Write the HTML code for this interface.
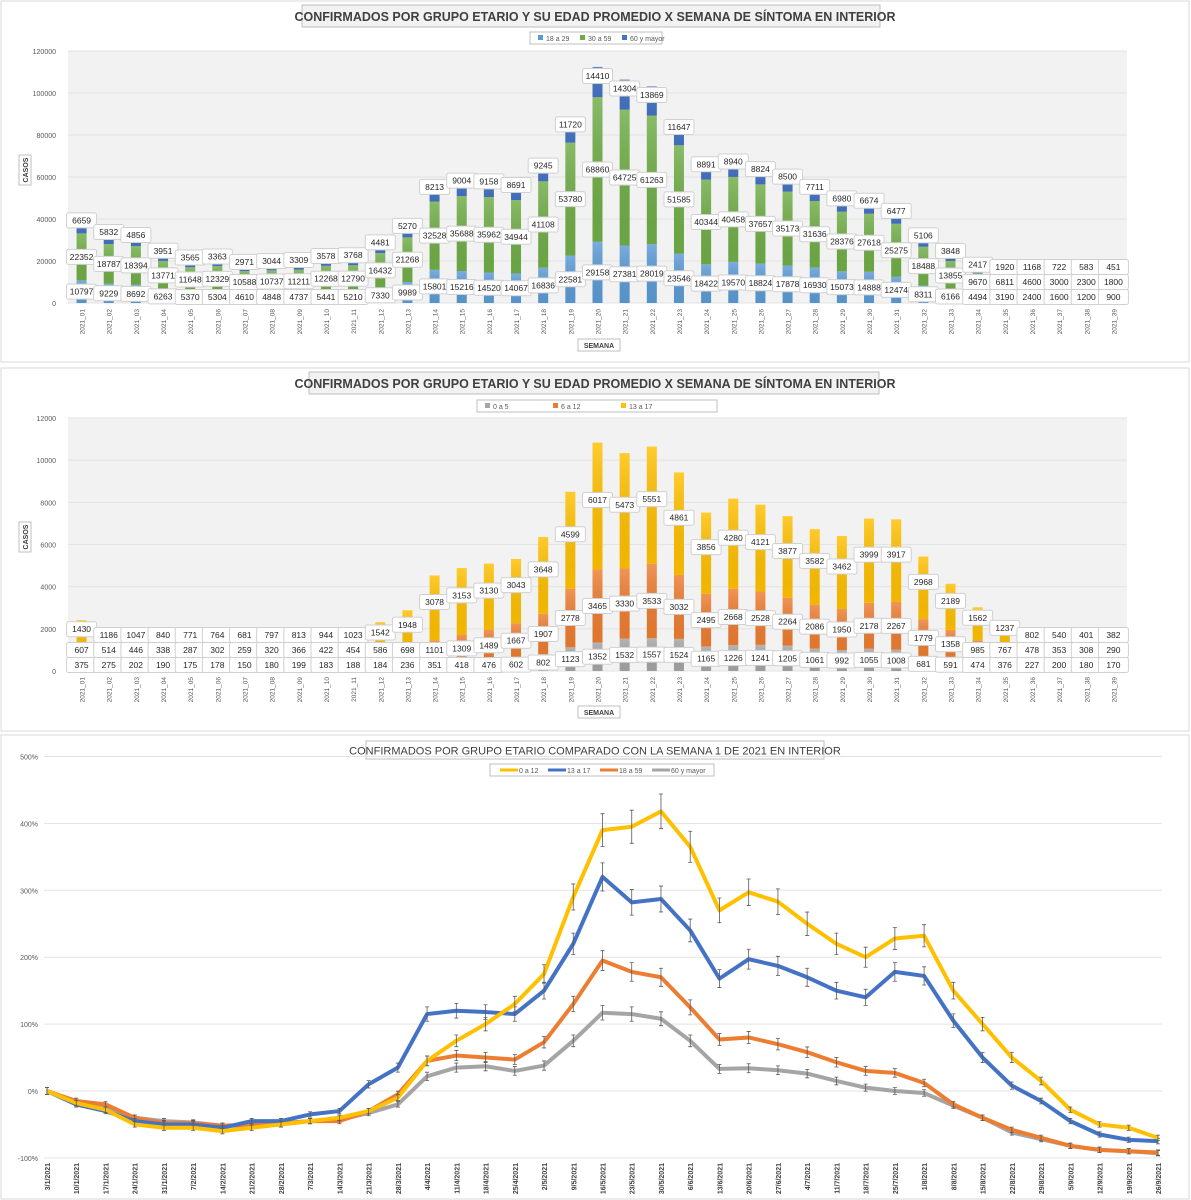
<!DOCTYPE html>
<html><head><meta charset="utf-8"><style>
body{margin:0;background:#fff;font-family:"Liberation Sans",sans-serif;}
svg{display:block}
</style></head><body>
<svg id="s" width="1191" height="1200" xmlns="http://www.w3.org/2000/svg">
<defs>
<linearGradient id="gr" x1="0" y1="0" x2="0" y2="1"><stop offset="0" stop-color="#fff" stop-opacity="0.18"/><stop offset="1" stop-color="#000" stop-opacity="0.05"/></linearGradient>
</defs>
</svg>
<script>
const weeks=[];for(let i=1;i<=39;i++)weeks.push('2021_'+String(i).padStart(2,'0'));
const c1_18a29=[10797,9229,8692,6263,5370,5304,4610,4848,4737,5441,5210,7330,9989,15801,15216,14520,14067,16836,22581,29158,27381,28019,23546,18422,19570,18824,17878,16930,15073,14888,12474,8311,6166,4494,3190,2400,1600,1200,900];
const c1_30a59=[22352,18787,18394,13771,11648,12329,10588,10737,11211,12268,12790,16432,21268,32528,35688,35962,34944,41108,53780,68860,64725,61263,51585,40344,40458,37657,35173,31636,28376,27618,25275,18488,13855,9670,6811,4600,3000,2300,1800];
const c1_60=[6659,5832,4856,3951,3565,3363,2971,3044,3309,3578,3768,4481,5270,8213,9004,9158,8691,9245,11720,14410,14304,13869,11647,8891,8940,8824,8500,7711,6980,6674,6477,5106,3848,2417,1920,1168,722,583,451];
const c1_ticks=[0,20000,40000,60000,80000,100000,120000];
const c2_0a5=[375,275,202,190,175,178,150,180,199,183,188,184,236,351,418,476,602,802,1123,1352,1532,1557,1524,1165,1226,1241,1205,1061,992,1055,1008,681,591,474,376,227,200,180,170];
const c2_6a12=[607,514,446,338,287,302,259,320,366,422,454,586,698,1101,1309,1489,1667,1907,2778,3465,3330,3533,3032,2495,2668,2528,2264,2086,1950,2178,2267,1779,1358,985,767,478,353,308,290];
const c2_13a17=[1430,1186,1047,840,771,764,681,797,813,944,1023,1542,1948,3078,3153,3130,3043,3648,4599,6017,5473,5551,4861,3856,4280,4121,3877,3582,3462,3999,3917,2968,2189,1562,1237,802,540,401,382];
const c2_ticks=[0,2000,4000,6000,8000,10000,12000];
const dates=[];{let d=new Date(2021,0,3);for(let i=0;i<39;i++){dates.push(d.getDate()+'/'+(d.getMonth()+1)+'/2021');d=new Date(d.getFullYear(),d.getMonth(),d.getDate()+7);}}
const l_0a12=[0,-18,-28,-50,-55,-55,-60,-55,-50,-45,-40,-30,-10,45,75,100,130,175,290,390,395,418,365,270,297,283,250,220,200,228,232,150,100,50,15,-28,-50,-55,-70];
const l_13a17=[0,-20,-30,-45,-50,-50,-55,-45,-45,-35,-30,10,35,115,120,118,115,150,220,320,282,287,240,168,197,187,170,150,140,178,172,105,50,8,-15,-45,-65,-73,-75];
const l_18a59=[0,-15,-20,-40,-48,-48,-52,-50,-48,-45,-45,-30,-5,45,53,50,47,73,130,195,178,170,125,77,80,70,58,43,30,27,12,-20,-40,-58,-70,-82,-88,-90,-92];
const l_60=[0,-18,-25,-40,-45,-47,-52,-52,-50,-45,-43,-33,-20,22,35,37,30,38,75,117,115,108,75,33,34,31,26,15,5,0,-3,-22,-40,-62,-72,-82,-88,-90,-93];
const l_ticks=[-100,0,100,200,300,400,500];

const S=document.getElementById('s');const NS='http://www.w3.org/2000/svg';
function el(t,a,p){const e=document.createElementNS(NS,t);for(const k in a)e.setAttribute(k,a[k]);(p||S).appendChild(e);return e;}
function tx(x,y,s,a,p){const e=el('text',Object.assign({x:x,y:y},a),p);e.textContent=s;return e;}

function panel(y0,h,name){const g=el('g',{});
 el('rect',{x:1,y:y0+1,width:1188,height:h,fill:'#fff',stroke:'#d9d9d9'},g);return g;}

function barChart(o){
 const g=panel(o.y0,o.h,o.name);
 const t=el('g',{},g);
 el('rect',{x:o.tx,y:o.y0+5,width:o.tw,height:22,fill:'#f2f2f2',stroke:'#bfbfbf'},t);
 tx(595,o.y0+21,'CONFIRMADOS POR GRUPO ETARIO Y SU EDAD PROMEDIO X SEMANA DE SÍNTOMA EN INTERIOR',{'text-anchor':'middle','font-size':12.5,'font-weight':'bold',fill:'#404040'},t);
 const lg=el('g',{},g);
 el('rect',{x:o.lx,y:o.ly,width:o.lw,height:12,fill:'#fff',stroke:'#bfbfbf'},lg);
 o.series.forEach((s,i)=>{const x=o.lx+8+i*o.lsp;el('rect',{x:x,y:o.ly+3,width:5,height:5,fill:s.c},lg);
  const e=tx(x+8,o.ly+9,s.n,{'font-size':7,fill:'#595959'},lg);});
 const px0=68,px1=1127,top=o.top,bot=o.bot,max=o.ticks[o.ticks.length-1];
 el('rect',{x:px0,y:top,width:px1-px0,height:bot-top,fill:'#f2f2f2'},g);
 const yS=v=>bot-v/max*(bot-top);const step=(px1-px0)/39;const xS=i=>px0+step*(i+0.5);
 o.ticks.forEach(v=>{el('line',{x1:px0,x2:px1,y1:yS(v),y2:yS(v),stroke:'#e3e3e3'},g);
  tx(px0-12,yS(v)+3,String(v),{'text-anchor':'end','font-size':7,fill:'#595959'},g);});
 const yt=el('g',{},g);el('rect',{x:19,y:o.ayc-15,width:12,height:30,fill:'#fff',stroke:'#bfbfbf'},yt);
 tx(0,0,'CASOS',{transform:`translate(28,${o.ayc}) rotate(-90)`,'text-anchor':'middle','font-size':7,'font-weight':'bold',fill:'#404040'},yt);
 
 const xt=el('g',{},g);el('rect',{x:578,y:o.axy,width:42,height:12,fill:'#fff',stroke:'#bfbfbf'},xt);
 tx(599,o.axy+9,'SEMANA',{'text-anchor':'middle','font-size':7,'font-weight':'bold',fill:'#404040'},xt);
 
 weeks.forEach((w,i)=>{let acc=0;const bg=el('g',{},g);
  const labs=[];
  o.series.forEach(s=>{const v=s.d[i];const y1=yS(acc+v),y0=yS(acc);
   el('rect',{x:xS(i)-5,y:y1,width:10,height:Math.max(0,y0-y1),fill:s.c},bg);
   el('rect',{x:xS(i)-5,y:y1,width:10,height:Math.max(0,y0-y1),fill:'url(#gr)'},bg);
   labs.push([(y0+y1)/2,v]);acc+=v;});
  let prev=9999;labs.forEach(([y,v],k)=>{let yy=k==labs.length-1?Math.min(y-6,prev-15):Math.min(y,prev-15);yy=Math.min(yy,bot-6);prev=yy;
   el('rect',{x:xS(i)-15,y:yy-7.5,width:30,height:15,rx:2,fill:'#fff',stroke:'#d0d0d0'},bg);
   tx(xS(i),yy+3,String(v),{'text-anchor':'middle','font-size':8.5,fill:'#262626'},bg);});
  tx(0,0,w,{transform:`translate(${xS(i)+3},${bot+6}) rotate(-90)`,'text-anchor':'end','font-size':6.5,fill:'#595959'},g);
 });
}
barChart({name:'chart-adults',y0:0,h:361,tx:302,tw:578,lx:530,ly:32,lw:132,lsp:42,top:51,bot:303,ayc:170,axy:339,ticks:c1_ticks,
 series:[{n:'18 a 29',c:'#5b9bd5',d:c1_18a29},{n:'30 a 59',c:'#70ad47',d:c1_30a59},{n:'60 y mayor',c:'#4472c4',d:c1_60}]});
barChart({name:'chart-children',y0:367,h:363,tx:309,tw:570,lx:477,ly:400,lw:240,lsp:68,top:418,bot:671,ayc:537,axy:706,ticks:c2_ticks,
 series:[{n:'0 a 5',c:'#a5a5a5',d:c2_0a5},{n:'6 a 12',c:'#ed7d31',d:c2_6a12},{n:'13 a 17',c:'#ffc000',d:c2_13a17}]});

(function(){
 const g=panel(734,464,'chart-comparison');
 const t=el('g',{},g);
 el('rect',{x:366,y:741,width:458,height:18,fill:'#fff',stroke:'#bfbfbf'},t);
 tx(595,754.5,'CONFIRMADOS POR GRUPO ETARIO COMPARADO CON LA SEMANA 1 DE 2021 EN INTERIOR',{'text-anchor':'middle','font-size':11,fill:'#404040'},t);
 const series=[{n:'0 a 12',c:'#ffc000',d:l_0a12},{n:'13 a 17',c:'#4472c4',d:l_13a17},{n:'18 a 59',c:'#ed7d31',d:l_18a59},{n:'60 y mayor',c:'#a5a5a5',d:l_60}];
 const lg=el('g',{},g);
 el('rect',{x:490,y:764,width:224,height:12,fill:'#fff',stroke:'#bfbfbf'},lg);
 const lx=[500,548,600,652];
 series.forEach((s,i)=>{el('line',{x1:lx[i],x2:lx[i]+18,y1:770,y2:770,stroke:s.c,'stroke-width':3},lg);
  const e=tx(lx[i]+19,773,s.n,{'font-size':7,fill:'#595959'},lg);});
 const y0=1091,pp=0.669,yS=v=>y0-v*pp;const x0=47,x1=1158,xS=i=>x0+(x1-x0)/38*i;
 l_ticks.forEach(v=>{el('line',{x1:44,x2:1162,y1:yS(v),y2:yS(v),stroke:'#e3e3e3'},g);
  tx(38,yS(v)+3,v+'%',{'text-anchor':'end','font-size':7,fill:'#595959'},g);});
 dates.forEach((d,i)=>tx(0,0,d,{transform:`translate(${xS(i)+3},${1163}) rotate(-90)`,'text-anchor':'end','font-size':7,'font-weight':'bold',fill:'#404040'},g));
 series.slice().reverse().forEach(s=>{
  const sg=el('g',{},g);
  el('polyline',{points:s.d.map((v,i)=>xS(i)+','+yS(v)).join(' '),fill:'none',stroke:s.c,'stroke-width':4,'stroke-linejoin':'round'},sg);
  s.d.forEach((v,i)=>{const err=Math.max(4,Math.abs(v+100)*0.05);const a=yS(v+err),b=yS(v-err);
   el('path',{d:`M${xS(i)},${a}V${b}M${xS(i)-2},${a}H${xS(i)+2}M${xS(i)-2},${b}H${xS(i)+2}`,stroke:'#595959','stroke-width':0.8,fill:'none'},sg);});
 });
})();
</script>
</body></html>
